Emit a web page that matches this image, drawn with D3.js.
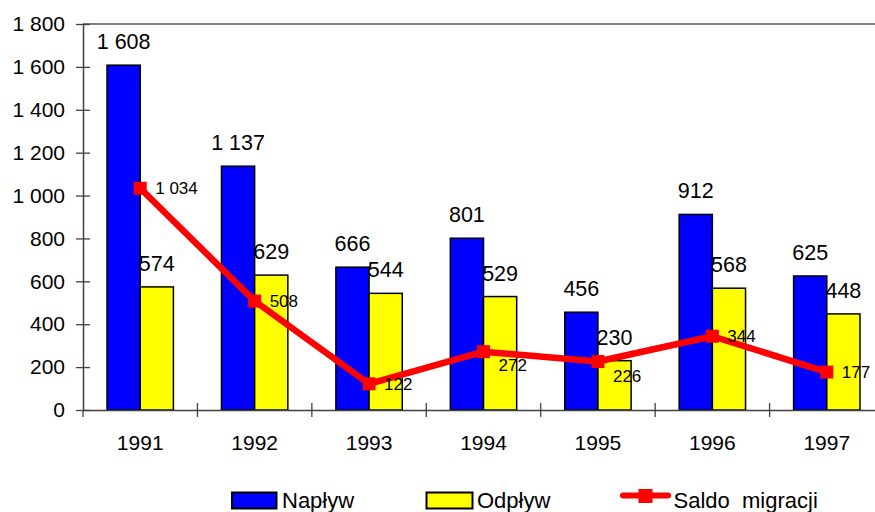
<!DOCTYPE html>
<html>
<head>
<meta charset="utf-8">
<script src="https://cdn.jsdelivr.net/npm/d3@7"></script>
<style>
  html, body { margin: 0; padding: 0; background: #fff; }
  svg { display: block; font-family: "Liberation Sans", Arial, sans-serif; }
</style>
</head>
<body>
<svg id="chart" width="875" height="512"></svg>
<script>
const years = ["1991", "1992", "1993", "1994", "1995", "1996", "1997"];
const naplyw = [1608, 1137, 666, 801, 456, 912, 625];
const odplyw = [574, 629, 544, 529, 230, 568, 448];
const saldo = [1034, 508, 122, 272, 226, 344, 177];
const yTicks = [0, 200, 400, 600, 800, 1000, 1200, 1400, 1600, 1800];
const seriesNames = ["Napływ", "Odpływ", "Saldo  migracji"];
// manual vertical nudges of saldo labels (as in the original)
const saldoLabelNudge = [0, 0, 0, 13, 15, 0, 0];

(function () {
const fmt = v => d3.format(",")(v).replace(/,/g, " ");

const svg = d3.select("#chart");
const W = 875;
const pLeft = 83, pRight = 884, pTop = 24, pBottom = 410;

const x = d3.scaleBand().domain(years).range([pLeft, pRight]).padding(0);
const y = d3.scaleLinear().domain([0, 1800]).range([pBottom, pTop]);
const bw = x.bandwidth();
const barW = bw * 0.29;
const x1 = d3.scaleBand().domain(["n", "o"]).range([bw / 2 - barW, bw / 2 + barW]).padding(0);

// top border line
svg.append("line")
  .attr("x1", pLeft).attr("x2", W).attr("y1", pTop).attr("y2", pTop)
  .attr("stroke", "#808080").attr("stroke-width", 2);

// bars
const groups = svg.append("g").selectAll("g").data(years).join("g")
  .attr("transform", d => `translate(${x(d)},0)`);

groups.append("rect")
  .attr("x", x1("n")).attr("width", x1.bandwidth())
  .attr("y", (d, i) => y(naplyw[i])).attr("height", (d, i) => y(0) - y(naplyw[i]))
  .attr("fill", "#0000FF").attr("stroke", "#000").attr("stroke-width", 1.5);

groups.append("rect")
  .attr("x", x1("o")).attr("width", x1.bandwidth())
  .attr("y", (d, i) => y(odplyw[i])).attr("height", (d, i) => y(0) - y(odplyw[i]))
  .attr("fill", "#FFFF00").attr("stroke", "#000").attr("stroke-width", 1.5);

// y axis
const yAxis = svg.append("g").attr("transform", `translate(${pLeft},0)`)
  .call(d3.axisLeft(y).tickValues(yTicks).tickFormat(fmt).tickSize(7).tickSizeOuter(0));
yAxis.select(".domain").attr("stroke", "#404040").attr("stroke-width", 1.5);
yAxis.selectAll(".tick line").attr("x2", 7).attr("x1", -7).attr("stroke", "#404040").attr("stroke-width", 1.3);
yAxis.selectAll(".tick text").attr("x", -18).attr("font-size", 21).attr("fill", "#000")
  .attr("font-family", "Liberation Sans, Arial, sans-serif");

// x axis
const xAxis = svg.append("g").attr("transform", `translate(0,${pBottom})`)
  .call(d3.axisBottom(x).tickSize(0).tickSizeOuter(0));
xAxis.select(".domain").attr("stroke", "#404040").attr("stroke-width", 1.5);
xAxis.selectAll(".tick line").remove();
xAxis.selectAll(".tick text").attr("y", 0).attr("dy", "40px").attr("font-size", 21).attr("fill", "#000")
  .attr("font-family", "Liberation Sans, Arial, sans-serif");
// category boundary ticks
const bounds = years.map(d => x(d)).concat([pRight]);
xAxis.selectAll(".bnd").data(bounds).join("line").attr("class", "bnd")
  .attr("x1", d => d).attr("x2", d => d)
  .attr("y1", (d, i) => i === 0 ? 0 : -7).attr("y2", 7)
  .attr("stroke", "#404040").attr("stroke-width", 1.3);

// bar labels
groups.append("text")
  .attr("x", x1("n") + x1.bandwidth() / 2)
  .attr("y", (d, i) => y(naplyw[i]) - 16)
  .attr("text-anchor", "middle").attr("font-size", 21.5).attr("fill", "#000")
  .text((d, i) => fmt(naplyw[i]));
groups.append("text")
  .attr("x", x1("o") + x1.bandwidth() / 2)
  .attr("y", (d, i) => y(odplyw[i]) - 16)
  .attr("text-anchor", "middle").attr("font-size", 21.5).attr("fill", "#000")
  .text((d, i) => fmt(odplyw[i]));

// saldo line
const cx = d => x(d) + bw / 2;
const line = d3.line().x((d, i) => cx(years[i])).y(d => y(d));
svg.append("path").datum(saldo).attr("d", line)
  .attr("fill", "none").attr("stroke", "#FF0000").attr("stroke-width", 6.5).attr("stroke-linejoin", "round");
const ms = 13;
svg.append("g").selectAll("rect").data(saldo).join("rect")
  .attr("x", (d, i) => cx(years[i]) - ms / 2).attr("y", d => y(d) - ms / 2)
  .attr("width", ms).attr("height", ms).attr("fill", "#FF0000");
svg.append("g").selectAll("text").data(saldo).join("text")
  .attr("x", (d, i) => cx(years[i]) + 15).attr("y", (d, i) => y(d) + saldoLabelNudge[i])
  .attr("dy", "0.35em").attr("font-size", 17).attr("fill", "#000")
  .text(d => fmt(d));

// legend
const lg = svg.append("g").attr("font-size", 22);
lg.append("rect").attr("x", 232).attr("y", 492.5).attr("width", 44.5).attr("height", 16)
  .attr("fill", "#0000FF").attr("stroke", "#000").attr("stroke-width", 2);
lg.append("text").attr("x", 282).attr("y", 507.5).text(seriesNames[0]);
lg.append("rect").attr("x", 426.5).attr("y", 492.5).attr("width", 46).attr("height", 16)
  .attr("fill", "#FFFF00").attr("stroke", "#000").attr("stroke-width", 2);
lg.append("text").attr("x", 477).attr("y", 507.5).text(seriesNames[1]);
lg.append("line").attr("x1", 623).attr("x2", 668).attr("y1", 495.5).attr("y2", 495.5)
  .attr("stroke", "#FF0000").attr("stroke-width", 6).attr("stroke-linecap", "round");
lg.append("rect").attr("x", 638.5).attr("y", 489).attr("width", 14).attr("height", 14).attr("fill", "#FF0000");
lg.append("text").attr("x", 673.5).attr("y", 507.5).style("white-space", "pre").text(seriesNames[2]);
})();
</script>
</body>
</html>
